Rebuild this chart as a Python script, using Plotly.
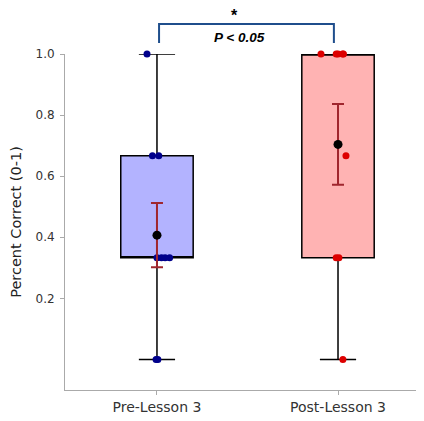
import plotly.graph_objects as go

# ---- data ----
groups = ["Pre-Lesson 3", "Post-Lesson 3"]
pre_scores = [1.0, 0.667, 0.667, 0.333, 0.333, 0.333, 0.333, 0.0, 0.0]
pre_jitter = [-0.055, -0.025, 0.01, 0.0, 0.025, 0.045, 0.07, -0.005, 0.005]
post_scores = [1.0, 1.0, 1.0, 1.0, 1.0, 0.667, 0.333, 0.333, 0.0]
post_jitter = [-0.094, -0.01, 0.0, 0.025, 0.03, 0.044, -0.01, 0.005, 0.027]

q1 = [0.333, 0.333]
median = [0.333, 1.0]
q3 = [0.667, 1.0]
lowfence = [0.0, 0.0]
upfence = [1.0, 1.0]
means = [0.407, 0.704]
sems = [0.105, 0.132]

box_fill = ["#b3b3ff", "#ffb3b3"]
point_colors = ["#00008b", "#dd0000"]

fig = go.Figure()
for i in range(2):
    fig.add_trace(go.Box(
        x=[i], q1=[q1[i]], median=[median[i]], q3=[q3[i]],
        lowerfence=[lowfence[i]], upperfence=[upfence[i]],
        width=0.4, whiskerwidth=0.5, fillcolor=box_fill[i],
        line=dict(color="black", width=1.5), boxpoints=False,
        hoverinfo="skip", showlegend=False))

for i, (sc, jt) in enumerate([(pre_scores, pre_jitter), (post_scores, post_jitter)]):
    fig.add_trace(go.Scatter(
        x=[i + j for j in jt], y=sc, mode="markers",
        marker=dict(color=point_colors[i], size=7),
        cliponaxis=False, showlegend=False))

fig.add_trace(go.Scatter(
    x=[0, 1], y=means, mode="markers",
    marker=dict(color="black", size=9),
    error_y=dict(type="data", array=sems, color="#a0262e", thickness=2, width=6),
    cliponaxis=False, showlegend=False))

# significance bracket
bc = "#1f4e8c"
fig.add_shape(type="path", xref="paper", yref="paper",
              path="M 0.262 1.033 L 0.262 1.089 L 0.749 1.089 L 0.749 1.033",
              line=dict(color=bc, width=2))
fig.add_annotation(xref="paper", yref="paper", x=0.473, y=1.145, text="<b>*</b>",
                   showarrow=False, font=dict(family="Liberation Sans", size=16, color="black"))
fig.add_annotation(xref="paper", yref="paper", x=0.487, y=1.076, text="<b><i>P < 0.05</i></b>",
                   showarrow=False, font=dict(family="Liberation Sans", size=13.5, color="black"))

fig.update_layout(
    width=416, height=413,
    margin=dict(l=57, r=0, t=46, b=31),
    plot_bgcolor="white", paper_bgcolor="white",
    font=dict(family="DejaVu Sans", size=12, color="#333"),
    xaxis=dict(range=[-0.508, 1.475], tickvals=[0, 1], ticktext=groups,
               showgrid=False, zeroline=False, showline=True, linecolor="#aaaaaa",
               linewidth=1, ticks="outside", ticklen=4, tickcolor="#aaaaaa",
               tickfont=dict(size=14), automargin=False),
    yaxis=dict(range=[-0.1, 1.0], tickvals=[0.2, 0.4, 0.6, 0.8, 1.0],
               ticktext=["0.2", "0.4", "0.6", "0.8", "1.0"],
               showgrid=False, zeroline=False, showline=True, linecolor="#aaaaaa",
               linewidth=1, ticks="outside", ticklen=4, tickcolor="#aaaaaa",
               ticklabelstandoff=3, automargin=False,
               title=dict(text="Percent Correct (0-1)", font=dict(size=14.5, color="#222"), standoff=10),
               tickfont=dict(size=12)),
)

fig.write_html("out.html")
